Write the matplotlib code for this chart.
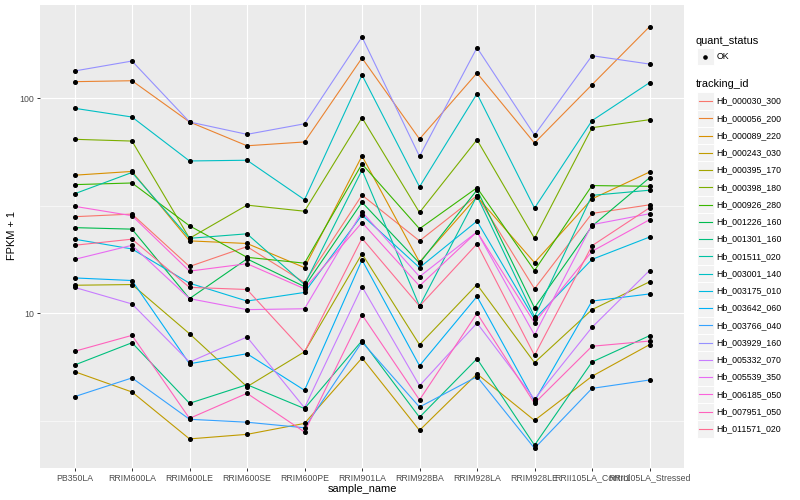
import matplotlib
matplotlib.use("Agg")
import matplotlib.pyplot as plt
from matplotlib.patches import Rectangle
from matplotlib.lines import Line2D
from matplotlib.ticker import FixedLocator, NullFormatter

plt.rcParams['font.family'] = ['Liberation Sans', 'DejaVu Sans']

samples = ['PB350LA', 'RRIM600LA', 'RRIM600LE', 'RRIM600SE', 'RRIM600PE', 'RRIM901LA',
           'RRIM928BA', 'RRIM928LA', 'RRIM928LE', 'RRII105LA_Control', 'RRII105LA_Stressed']

tracking_ids = ['Hb_000030_300', 'Hb_000056_200', 'Hb_000089_220', 'Hb_000243_030',
                'Hb_000395_170', 'Hb_000398_180', 'Hb_000926_280', 'Hb_001226_160',
                'Hb_001301_160', 'Hb_001511_020', 'Hb_003001_140', 'Hb_003175_010',
                'Hb_003642_060', 'Hb_003766_040', 'Hb_003929_160', 'Hb_005332_070',
                'Hb_005539_350', 'Hb_006185_050', 'Hb_007951_050', 'Hb_011571_020']

# ggplot default hue palette for 20 levels
colors = ['#F8766D', '#EA8331', '#D89000', '#C09B00', '#A3A500', '#7CAE00', '#39B600',
          '#00BB4E', '#00BF7D', '#00C1A3', '#00BFC4', '#00BAE0', '#00B0F6', '#35A2FF',
          '#9590FF', '#C77CFF', '#E76BF3', '#FA62DB', '#FF62BC', '#FF6C91']

# FPKM + 1 per sample, one list per tracking_id
hb_000030_300 = [28.1, 28.9, 16.5, 20.4, 13.9, 35.4, 21.7, 35.2, 13.0, 29.1, 31.9]
hb_000056_200 = [119.1, 120.3, 77.4, 60.0, 62.5, 153.4, 64.5, 130.6, 61.8, 115.3, 214.4]
hb_000089_220 = [43.8, 45.6, 21.7, 21.1, 16.3, 53.8, 17.3, 34.8, 17.2, 34.0, 45.3]
hb_000243_030 = [5.36, 4.31, 2.61, 2.74, 3.08, 6.20, 2.86, 5.23, 3.18, 5.10, 7.15]
hb_000395_170 = [13.5, 13.6, 8.04, 4.56, 6.63, 18.9, 7.15, 13.6, 5.90, 10.4, 14.0]
hb_000398_180 = [64.3, 63.1, 22.3, 31.8, 29.8, 81.0, 29.4, 64.0, 22.3, 72.8, 79.3]
hb_000926_280 = [39.6, 40.3, 25.5, 18.2, 17.1, 49.4, 24.7, 38.3, 15.8, 39.2, 38.9]
hb_001226_160 = [25.0, 24.6, 11.7, 17.9, 13.3, 32.8, 17.1, 37.4, 10.6, 25.4, 42.6]
hb_001301_160 = [5.75, 7.30, 3.82, 4.66, 3.61, 7.46, 3.29, 6.15, 2.44, 5.94, 7.87]
hb_001511_020 = [35.9, 45.1, 22.3, 23.4, 13.6, 46.3, 10.8, 35.1, 9.64, 35.3, 37.3]
hb_003001_140 = [89.6, 81.6, 51.0, 51.4, 33.7, 127.9, 38.7, 104.7, 30.8, 78.5, 117.8]
hb_003175_010 = [22.1, 19.9, 13.8, 11.4, 12.5, 28.6, 16.3, 26.8, 9.41, 17.8, 22.6]
hb_003642_060 = [14.6, 14.2, 5.83, 6.49, 4.39, 17.7, 5.71, 11.97, 3.91, 11.4, 12.3]
hb_003766_040 = [4.10, 5.01, 3.22, 3.12, 2.94, 7.36, 3.67, 5.08, 2.36, 4.48, 4.90]
hb_003929_160 = [133.5, 148.5, 77.4, 67.8, 75.9, 192.0, 53.6, 171.3, 67.3, 157.2, 143.8]
hb_005332_070 = [13.2, 11.05, 5.94, 7.76, 3.64, 13.3, 4.61, 9.01, 3.99, 8.61, 15.8]
hb_005539_350 = [17.8, 20.7, 11.7, 10.4, 10.5, 29.6, 14.8, 23.9, 7.93, 25.8, 29.0]
hb_006185_050 = [31.4, 28.4, 15.7, 17.0, 13.0, 26.4, 13.4, 23.9, 9.04, 19.4, 27.2]
hb_007951_050 = [6.66, 7.90, 3.25, 4.25, 2.81, 9.85, 3.96, 10.0, 3.82, 7.03, 7.43]
hb_011571_020 = [20.7, 22.1, 13.2, 12.9, 6.61, 22.3, 10.8, 21.0, 6.38, 20.6, 30.9]

series = [hb_000030_300, hb_000056_200, hb_000089_220, hb_000243_030, hb_000395_170,
          hb_000398_180, hb_000926_280, hb_001226_160, hb_001301_160, hb_001511_020,
          hb_003001_140, hb_003175_010, hb_003642_060, hb_003766_040, hb_003929_160,
          hb_005332_070, hb_005539_350, hb_006185_050, hb_007951_050, hb_011571_020]

W, H = 800, 500
fig = plt.figure(figsize=(8, 5), dpi=100)
fig.patch.set_facecolor('white')

# panel in pixel coordinates: x 40..684, y 5..468
ax = fig.add_axes([40 / W, 1 - 468 / H, 644 / W, 463 / H])
ax.set_facecolor('#EBEBEB')
for s in ax.spines.values():
    s.set_visible(False)

xs = list(range(len(samples)))
for vals, col in zip(series, colors):
    ax.plot(xs, vals, color=col, lw=0.8, zorder=3)
for vals in series:
    ax.plot(xs, vals, ls='none', marker='o', ms=2.6, color='black', zorder=4)

ax.set_yscale('log')
ax.set_ylim(1.912, 270.4)
ax.set_xlim(-0.6, 10.6)

ax.yaxis.set_major_locator(FixedLocator([10, 100]))
ax.set_yticklabels(['10', '100'])
ax.yaxis.set_minor_locator(FixedLocator([10 ** 0.5, 10 ** 1.5]))
ax.yaxis.set_minor_formatter(NullFormatter())
ax.set_xticks(xs)
ax.set_xticklabels(samples)

ax.tick_params(axis='both', which='major', length=2.5, width=0.7, color='#333333',
               labelsize=6.34, labelcolor='#4D4D4D', pad=1.5)
ax.tick_params(axis='y', which='minor', length=0)
ax.grid(True, which='major', color='white', lw=0.85, zorder=0)
ax.grid(True, which='minor', axis='y', color='white', lw=0.4, zorder=0)
ax.set_axisbelow(True)

fig.text(12 / W, 1 - 236 / H, 'FPKM + 1', rotation=90, ha='center', va='center',
         fontsize=7.92, color='black')
fig.text(362 / W, 1 - 489 / H, 'sample_name', ha='center', va='center',
         fontsize=7.92, color='black')

# legend drawn by hand in ggplot style
def px(x, y):
    return x / W, 1 - y / H

key = 17.26
fig.text(*px(696, 40.7), 'quant_status', ha='left', va='center', fontsize=7.92)
bx, by = px(696.7, 56.7 + key / 2)
fig.patches.append(Rectangle((bx, by), key / W, key / H, transform=fig.transFigure,
                             facecolor='#F2F2F2', edgecolor='white', lw=0.7))
fig.lines.append(Line2D([705.3 / W], [1 - 56.7 / H], transform=fig.transFigure,
                        marker='o', ms=2.3, color='black', ls='none'))
fig.text(*px(716.7, 56.7), 'OK', ha='left', va='center', fontsize=6.34)

fig.text(*px(696, 84.3), 'tracking_id', ha='left', va='center', fontsize=7.92)
for i, (name, col) in enumerate(zip(tracking_ids, colors)):
    yc = 101 + i * key
    bx, by = px(696.7, yc + key / 2)
    fig.patches.append(Rectangle((bx, by), key / W, key / H, transform=fig.transFigure,
                                 facecolor='#F2F2F2', edgecolor='white', lw=0.7))
    fig.lines.append(Line2D([698.5 / W, 711.5 / W], [1 - yc / H, 1 - yc / H],
                            transform=fig.transFigure, color=col, lw=0.8))
    fig.text(*px(716.7, yc), name, ha='left', va='center', fontsize=6.34)

fig.savefig('out.png', dpi=100)
